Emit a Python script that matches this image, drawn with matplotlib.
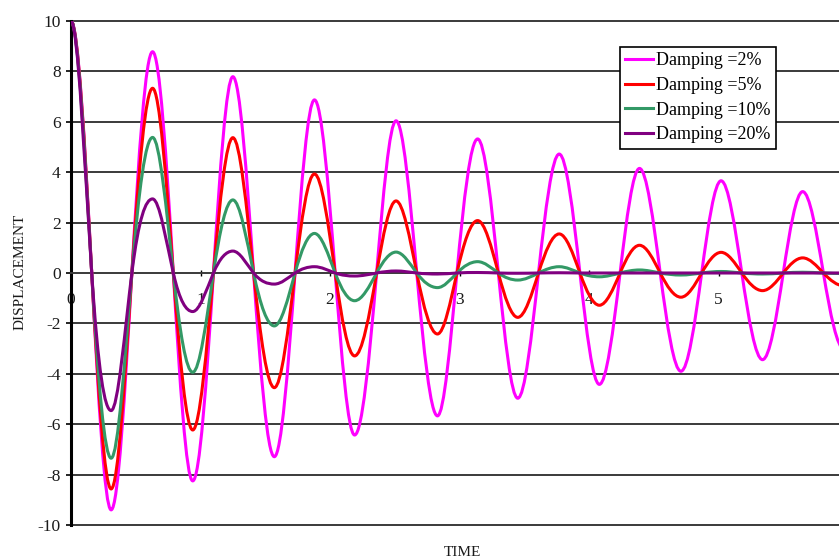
import numpy as np
import matplotlib
matplotlib.use('Agg')
import matplotlib.pyplot as plt
from matplotlib.path import Path
from matplotlib.patches import PathPatch
from matplotlib.lines import Line2D

# time of start, zero crossings and peaks/troughs
time = [0, 0.16, 0.31, 0.47, 0.63, 0.79, 0.94, 1.10, 1.25, 1.41, 1.57, 1.73, 1.88,
        2.04, 2.19, 2.36, 2.51, 2.67, 2.83, 2.98, 3.14, 3.30, 3.45, 3.61, 3.77,
        3.93, 4.08, 4.24, 4.39, 4.55, 4.71, 4.87, 5.02, 5.18, 5.34, 5.50, 5.65,
        5.81, 5.97]

disp_2 = [10, 0, -9.40, 0, 8.78, 0, -8.25, 0, 7.79, 0, -7.29, 0, 6.87, 0, -6.43, 0,
          6.04, 0, -5.67, 0, 5.32, 0, -4.97, 0, 4.72, 0, -4.42, 0, 4.15, 0, -3.90, 0,
          3.66, 0, -3.44, 0, 3.23, 0, -3.02]
disp_5 = [10, 0, -8.57, 0, 7.33, 0, -6.23, 0, 5.37, 0, -4.55, 0, 3.93, 0, -3.29, 0,
          2.86, 0, -2.42, 0, 2.08, 0, -1.76, 0, 1.55, 0, -1.28, 0, 1.10, 0, -0.96, 0,
          0.82, 0, -0.70, 0, 0.60, 0, -0.51]
disp_10 = [10, 0, -7.35, 0, 5.38, 0, -3.94, 0, 2.90, 0, -2.10, 0, 1.57, 0, -1.10, 0,
           0.83, 0, -0.58, 0, 0.45, 0, -0.28, 0, 0.25, 0, -0.15, 0, 0.12, 0, -0.08, 0,
           0.06, 0, -0.04, 0, 0.03, 0, -0.02]
disp_20 = [10, 0, -5.46, 0, 2.94, 0, -1.53, 0, 0.87, 0, -0.44, 0, 0.25, 0, -0.12, 0,
           0.08, 0, -0.04, 0, 0.02, 0, -0.01, 0, 0.01, 0, 0, 0, 0, 0, 0, 0,
           0, 0, 0, 0, 0, 0, 0]

labels = ['Damping =2%', 'Damping =5%', 'Damping =10%', 'Damping =20%']
colors = ['#ff00ff', '#ff0000', '#339966', '#800080']
series = [disp_2, disp_5, disp_10, disp_20]


def smooth_path(t, y):
    # smoothed line through the points (like excel "smoothed line")
    t = np.asarray(t, float)
    y = np.asarray(y, float)
    m = np.zeros_like(y)
    m[1:-1] = (np.pi / 2) * (y[2:] - y[:-2]) / (t[2:] - t[:-2])
    verts = [(t[0], y[0])]
    codes = [Path.MOVETO]
    for i in range(len(t) - 1):
        h = t[i + 1] - t[i]
        verts += [(t[i] + h / 3, y[i] + m[i] * h / 3),
                  (t[i + 1] - h / 3, y[i + 1] - m[i + 1] * h / 3),
                  (t[i + 1], y[i + 1])]
        codes += [Path.CURVE4] * 3
    return Path(verts, codes)


plt.rcParams['font.family'] = ['Liberation Serif', 'DejaVu Serif']
plt.rcParams['axes.unicode_minus'] = False

fig = plt.figure(figsize=(8.39, 5.60), dpi=100)
ax = fig.add_axes([71 / 839, 1 - 525 / 560, 1 - 71 / 839, 504 / 560])

for y, c in zip(series, colors):
    ax.add_patch(PathPatch(smooth_path(time, y), facecolor='none', edgecolor=c,
                           lw=2.2, zorder=3, capstyle='round', joinstyle='round'))

ax.set_xlim(0, (839 - 71) / 129.5)
ax.set_ylim(-10, 10)

ax.set_yticks(np.arange(-10, 11, 2))
ax.set_xticks([0, 1, 2, 3, 4, 5])
for v in np.arange(-10, 11, 2):
    if v != 0:
        ax.axhline(v, color='#3a3a3a', lw=1.4, zorder=1, clip_on=False)

ax.spines['top'].set_visible(False)
ax.spines['right'].set_visible(False)
ax.spines['left'].set_linewidth(2.2)
ax.spines['left'].set_color('black')
ax.spines['bottom'].set_position(('data', 0))
ax.spines['bottom'].set_color('#3a3a3a')
ax.spines['bottom'].set_linewidth(1.4)

ax.tick_params(axis='y', direction='out', length=3.5, width=1.2, pad=4,
               labelsize=12.5, labelcolor='#1a1a1a')
ax.tick_params(axis='x', direction='inout', length=5, width=1, pad=11,
               labelsize=12.5, labelcolor='#1a1a1a')

fig.text(20 / 839, 1 - 272 / 560, 'DISPLACEMENT', rotation=90, ha='center', va='center',
         fontsize=11, color='#1a1a1a')
fig.text(462 / 839, 1 - 552 / 560, 'TIME', ha='center', va='center',
         fontsize=11, color='#1a1a1a')

handles = [Line2D([], [], color=c, lw=2.2) for c in colors]
leg = ax.legend(handles, labels, loc='upper left',
                bbox_to_anchor=(620 / 839, 1 - 47 / 560), bbox_transform=fig.transFigure,
                fancybox=False, framealpha=1, edgecolor='black', fontsize=13,
                handlelength=1.5, handletextpad=0.2, borderpad=0.3, labelspacing=0.42,
                borderaxespad=0)
leg.get_frame().set_linewidth(1.2)
leg.set_zorder(5)

plt.savefig('out.png', dpi=100)
